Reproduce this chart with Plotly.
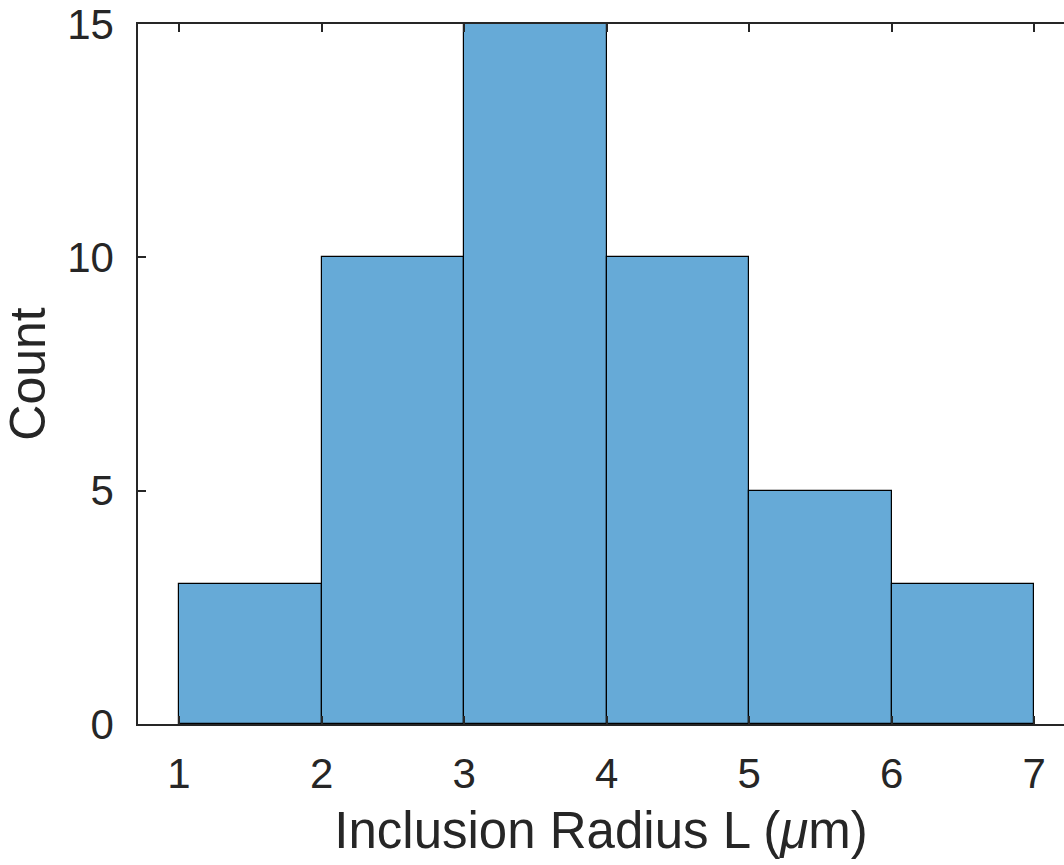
import plotly.graph_objects as go

bin_edges = [1, 2, 3, 4, 5, 6, 7]
counts = [3, 10, 15, 10, 5, 3]
x_ticks = [1, 2, 3, 4, 5, 6, 7]
y_ticks = [0, 5, 10, 15]

centers = [(bin_edges[i] + bin_edges[i + 1]) / 2 for i in range(len(counts))]
widths = [bin_edges[i + 1] - bin_edges[i] for i in range(len(counts))]

axis_color = "#262626"
font_family = "Liberation Sans, Arial, Helvetica, sans-serif"

fig = go.Figure(
    go.Bar(
        x=centers,
        y=counts,
        width=widths,
        marker=dict(color="rgb(102,170,215)", line=dict(color="#000000", width=1.2)),
        hoverinfo="x+y",
    )
)

fig.update_layout(
    width=1064,
    height=865,
    margin=dict(l=138, r=0, t=24, b=141),
    paper_bgcolor="white",
    plot_bgcolor="white",
    showlegend=False,
    bargap=0,
    font=dict(family=font_family, color=axis_color),
)

fig.update_xaxes(
    range=[0.712, 7.21],
    tickvals=x_ticks,
    ticktext=[str(v) for v in x_ticks],
    ticks="inside",
    ticklen=8,
    tickwidth=1.5,
    tickcolor=axis_color,
    showline=True,
    linecolor=axis_color,
    linewidth=1.5,
    mirror="ticks",
    showgrid=False,
    zeroline=False,
    tickfont=dict(size=42, color=axis_color),
    ticklabelstandoff=12,
    title=dict(text="Inclusion Radius L (<i>μ</i>m)", font=dict(size=51, color=axis_color), standoff=16),
)

fig.update_yaxes(
    range=[0, 15],
    tickvals=y_ticks,
    ticktext=[str(v) for v in y_ticks],
    ticks="inside",
    ticklen=8,
    tickwidth=1.5,
    tickcolor=axis_color,
    showline=True,
    linecolor=axis_color,
    linewidth=1.5,
    mirror=False,
    showgrid=False,
    zeroline=False,
    tickfont=dict(size=42, color=axis_color),
    ticklabelstandoff=14,
    title=dict(text="Count", font=dict(size=50, color=axis_color), standoff=10),
)

fig.write_html("out.html")
